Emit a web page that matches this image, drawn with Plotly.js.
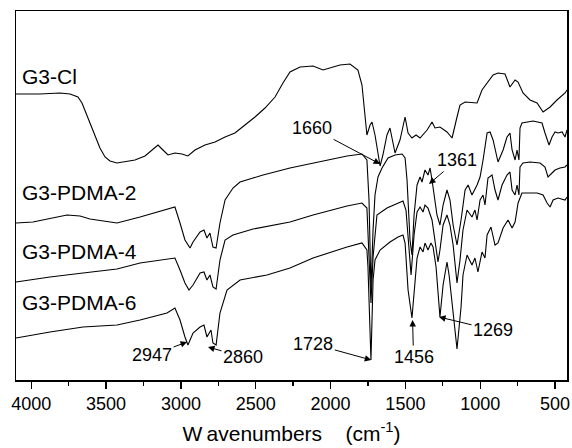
<!DOCTYPE html>
<html>
<head>
<meta charset="utf-8">
<script src="https://cdn.plot.ly/plotly-3.0.1.min.js"></script>
<style>html,body{margin:0;padding:0;background:#fff;}#chart{width:572px;height:448px;}</style>
</head>
<body>
<div id="chart"></div>
<script>
// Wavenumber (cm-1) and transmittance (arbitrary units, offset) per sample
const wnCl = [4102,3942,3808,3741,3688,3661,3621,3574,3541,3507,3474,3427,3374,3307,3240,3193,3153,3120,3086,3040,2993,2953,2906,2839,2772,2705,2639,2572,2505,2438,2371,2318,2271,2204,2117,2050,1937,1870,1817,1790,1770,1757,1736,1723,1703,1683,1669,1650,1623,1603,1569,1536,1502,1482,1456,1429,1402,1355,1322,1302,1269,1222,1188,1155,1135,1101,1055,1021,988,948,914,881,834,801,767,747,714,667,620,580,533,487,433,420];
const tCl = [286,286,287,286,283,277,262,245,232,223,219,217,218,220,224,230,235,230,225,227,226,224,230,235,238,243,247,255,263,272,283,297,308,313,314,310,315,316,310,295,260,245,255,258,245,225,214,225,245,252,227,240,263,247,242,245,242,250,258,252,253,248,242,263,275,278,277,277,290,298,305,307,306,293,300,298,287,280,277,268,273,280,287,290];

const wnP2 = [4102,3989,3761,3674,3608,3427,3273,3093,3040,3006,2973,2939,2919,2872,2846,2826,2806,2786,2765,2739,2705,2652,2605,2518,2451,2271,2117,1890,1790,1757,1743,1730,1716,1703,1683,1656,1616,1569,1522,1502,1489,1469,1456,1442,1422,1402,1389,1369,1349,1335,1322,1302,1289,1269,1248,1222,1202,1181,1155,1128,1101,1081,1055,1021,1001,981,954,934,914,881,847,821,801,787,767,754,741,734,721,647,587,567,540,520,500,480,453,433,420];
const tP2 = [157,158,165,164,161,157,163,171,173,157,140,132,138,148,150,142,147,133,132,157,180,192,198,202,205,212,217,224,226,220,180,90,150,185,203,212,222,225,226,222,200,140,125,165,195,203,198,210,205,212,200,180,165,155,175,190,180,155,135,160,190,195,185,195,203,220,247,248,240,218,230,243,247,230,220,230,220,252,257,259,257,247,235,243,248,247,248,243,250];

const wnP4 = [4102,3875,3654,3427,3273,3093,3040,3006,2973,2946,2919,2872,2846,2826,2806,2786,2765,2739,2705,2652,2518,2271,2117,1890,1790,1757,1743,1730,1716,1690,1623,1556,1516,1496,1482,1462,1442,1422,1402,1382,1369,1349,1322,1302,1282,1269,1248,1222,1202,1181,1155,1135,1115,1088,1055,1035,1021,1001,981,968,948,921,901,881,854,821,801,787,767,754,741,734,714,667,600,567,547,520,500,467,433,420];
const tP4 = [98,103,107,111,117,121,122,110,97,90,95,107,108,100,105,93,91,120,140,145,151,158,165,174,177,172,130,77,123,165,172,176,179,170,140,105,145,168,173,168,175,172,160,140,118,130,155,165,155,135,97,120,150,170,163,170,160,180,185,175,202,205,190,180,195,205,208,190,185,195,185,213,217,218,217,213,203,207,210,212,213,215];

const wnP6 = [4102,3875,3654,3427,3273,3093,3040,3006,2973,2953,2919,2872,2846,2826,2799,2786,2765,2739,2692,2605,2425,2271,2117,1890,1790,1757,1750,1736,1730,1716,1703,1669,1603,1549,1516,1502,1482,1456,1436,1422,1402,1382,1369,1349,1329,1315,1295,1269,1248,1222,1208,1188,1155,1128,1115,1088,1055,1035,1015,988,968,954,928,901,881,847,814,787,767,747,721,620,580,553,533,513,480,433,420];
const tP6 = [42,48,53,55,60,67,72,60,43,35,47,53,55,43,50,37,35,67,90,100,105,112,122,133,137,130,113,50,20,100,120,130,138,143,145,137,90,62,100,122,133,128,137,130,137,133,113,63,95,118,105,75,31,73,105,125,115,122,108,128,122,145,153,135,137,152,160,152,158,177,187,187,185,177,173,180,182,180,183];

const sampleNames = ["G3-Cl","G3-PDMA-2","G3-PDMA-4","G3-PDMA-6"];
const sampleLabelY = [304,188,129,78];

const peakLabels = ["1660","1361","1728","1456","1269","2947","2860"];
const peakX = [1669,1342,1728,1452,1275,2959,2819];
const peakY = [216,196,20,60,63,38,33];
const peakAx = [-68,28,-58,1,54,-35,35];
const peakAy = [-36,-24,-16,37,13,13,10];

const tickVals = [4000,3500,3000,2500,2000,1500,1000,500];

const FONT = 'Arial, "Liberation Sans", Helvetica, sans-serif';
const line = {color:'#000', width:1.1};
const series = [[wnCl,tCl],[wnP2,tP2],[wnP4,tP4],[wnP6,tP6]];
const traces = series.map((s,i)=>({x:s[0], y:s[1], type:'scatter', mode:'lines', line:line, name:sampleNames[i], hoverinfo:'skip'}));

const annotations = [];
sampleNames.forEach((n,i)=>annotations.push({x:4075, y:sampleLabelY[i], xref:'x', yref:'y', text:n, showarrow:false, xanchor:'left', yanchor:'middle', font:{family:FONT, size:21, color:'#000'}}));
peakLabels.forEach((t,i)=>annotations.push({x:peakX[i], y:peakY[i], xref:'x', yref:'y', text:t, showarrow:true, ax:peakAx[i], ay:peakAy[i], arrowhead:2, arrowsize:1.3, arrowwidth:1, arrowcolor:'#000', standoff:0, startstandoff:0, font:{family:FONT, size:18, color:'#000'}}));

const layout = {
  width:572, height:448,
  margin:{l:16, r:5, t:11, b:68},
  paper_bgcolor:'#fff', plot_bgcolor:'#fff',
  showlegend:false,
  font:{family:FONT, color:'#000'},
  xaxis:{
    range:[4102,420], tickvals:tickVals, ticks:'outside', ticklen:7, tickwidth:1.3, tickcolor:'#000',
    minor:{ticks:'outside', dtick:250, tick0:0, ticklen:4, tickwidth:1.3, tickcolor:'#000'},
    showline:true, linecolor:'#000', linewidth:1.5, mirror:true, showgrid:false, zeroline:false,
    tickfont:{family:FONT, size:18, color:'#000'},
    title:{text:'W\u2009avenumbers\u00A0\u00A0\u00A0\u00A0(cm<sup>-1</sup>)', font:{family:FONT, size:21, color:'#000'}, standoff:13}
  },
  yaxis:{
    range:[0,369], showticklabels:false, ticks:'', showgrid:false, zeroline:false,
    showline:true, linecolor:'#000', linewidth:1.5, mirror:true
  },
  annotations:annotations
};
Plotly.newPlot('chart', traces, layout, {displayModeBar:false, staticPlot:true});
</script>
</body>
</html>
